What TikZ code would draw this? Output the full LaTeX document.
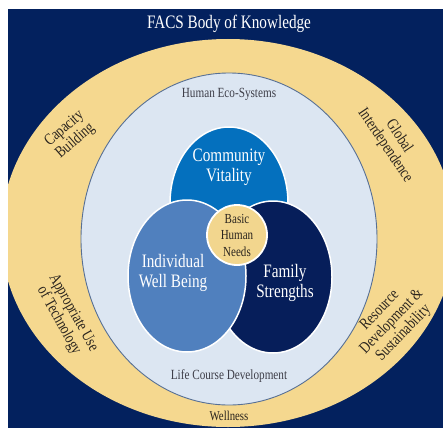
\documentclass[tikz,border=0pt]{standalone}
\usepackage{fontspec}
\setmainfont[FakeStretch=0.8]{Liberation Serif}
\usetikzlibrary{shapes.geometric, positioning}
\definecolor{facsnavy}{RGB}{3,33,94}
\definecolor{ringyellow}{RGB}{245,216,143}
\definecolor{ecoblue}{RGB}{220,230,242}
\definecolor{ecoline}{RGB}{88,112,148}
\definecolor{communityblue}{RGB}{4,112,190}
\definecolor{individualblue}{RGB}{80,128,190}
\definecolor{familynavy}{RGB}{6,30,90}
\definecolor{needsyellow}{RGB}{242,214,142}
\definecolor{labeldark}{RGB}{42,36,30}
\definecolor{labelgray}{RGB}{62,62,72}
\tikzstyle{venn} = [ellipse, draw=white, line width=1.5pt, inner sep=0pt, minimum width=118pt, minimum height=152pt]
\tikzstyle{venntext} = [text=white, align=center, font=\fontsize{19}{20}\selectfont]
\tikzstyle{ringtext} = [text=labeldark, align=center, font=\fontsize{16.2}{16.5}\selectfont]
\tikzstyle{ecotext} = [text=labelgray, anchor=base, font=\fontsize{14}{16}\selectfont]
\begin{document}
\begin{tikzpicture}[x=1pt, y=-1pt]
		\useasboundingbox (0,0) rectangle (443,428);
		\fill [facsnavy] (8,9) rectangle (443,428);
		\begin{scope}
			\clip (8,9) rectangle (443,428);
			\node (Ring) [ellipse, fill=ringyellow, inner sep=0pt, minimum width=454pt, minimum height=388pt] at (228,233) {};
		\end{scope}
		\node (Eco) [ellipse, fill=ecoblue, draw=ecoline, line width=0.9pt, inner sep=0pt, minimum width=296pt, minimum height=332pt] at (229,239) {};

		\node (Community) [venn, fill=communityblue] at (229,203) {};
		\node (Family) [venn, fill=familynavy] at (273,277) {};
		\node (Individual) [venn, fill=individualblue] at (187,276) {};
		\node (Needs) [circle, draw=white, line width=1.8pt, fill=needsyellow, inner sep=0pt, minimum size=60pt] at (237,235) {};

		\node (CommunityText) [venntext] at (229,167.5) {Community\\Vitality};
		\node (IndividualText) [venntext] at (173,273) {Individual\\Well Being};
		\node (FamilyText) [venntext] at (285,283) {Family\\Strengths};
		\node (NeedsText) [text=labeldark, align=center, font=\fontsize{13.8}{16.5}\selectfont] at (Needs) {Basic\\Human\\Needs};

		\node (Title) [text=white, anchor=base, font=\fontsize{19}{22}\selectfont] at (229,29) {FACS Body of Knowledge};
		\node (EcoTop) [ecotext] at (229,97) {Human Eco-Systems};
		\node (EcoBottom) [ecotext] at (229,379) {Life Course Development};
		\node (RingBottom) [text=labeldark, anchor=base, font=\fontsize{13.5}{16}\selectfont] at (229,420) {Wellness};

		\node (Capacity) [ringtext, rotate=41] at (70,135) {Capacity\\Building};
		\node (Global) [ringtext, rotate=-56] at (392,141) {Global\\Interdependence};
		\node (Technology) [ringtext, rotate=-61] at (66,317) {Appropriate Use\\of Technology};
		\node (Resource) [ringtext, rotate=46] at (392,322) {Resource\\Development \&\\Sustainability};
	\end{tikzpicture}
\end{document}
